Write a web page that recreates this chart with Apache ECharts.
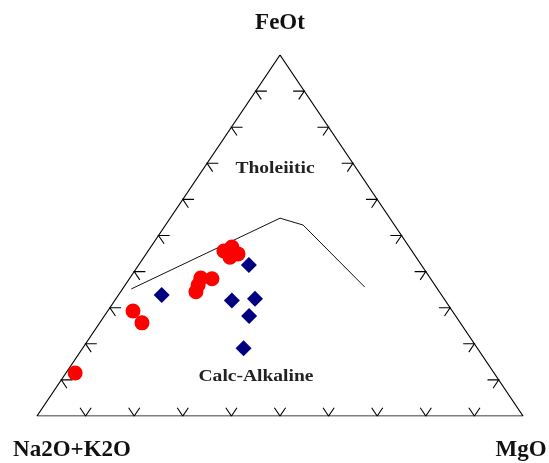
<!DOCTYPE html>
<html>
<head>
<meta charset="utf-8">
<script src="https://cdn.jsdelivr.net/npm/echarts@6/dist/echarts.min.js"></script>
<style>
html,body{margin:0;padding:0;background:#fff;}
#chart{width:549px;height:463px;}
</style>
</head>
<body>
<div id="chart"></div>
<script>
// Vertex labels
const vertexLabels = ['FeOt', 'Na2O+K2O', 'MgO'];
const fieldLabels = ['Tholeiitic', 'Calc-Alkaline'];
// tick positions (percent along each edge)
const tickValues = [10, 20, 30, 40, 50, 60, 70, 80, 90];

// Red circle samples (FeOt, Na2O+K2O, MgO in %)
const redFeOt = [45.7, 46.8, 44.9, 44.0, 38.2, 38.0, 36.3, 34.4, 29.1, 25.8, 11.9];
const redAlk  = [38.7, 36.5, 36.2, 38.3, 47.2, 45.0, 48.7, 50.1, 65.7, 65.5, 86.2];
const redMgO  = [15.6, 16.7, 18.9, 17.7, 14.6, 17.0, 15.0, 15.5, 5.2, 8.7, 1.9];

// Blue diamond samples
const blueFeOt = [33.5, 41.8, 32.0, 32.5, 27.7, 18.8];
const blueAlk  = [57.6, 35.5, 43.9, 38.9, 42.5, 48.1];
const blueMgO  = [8.9, 22.7, 24.1, 28.6, 29.8, 33.1];

// Tholeiitic / calc-alkaline boundary
const lineFeOt = [35.2, 54.8, 52.9, 35.7];
const lineAlk  = [63.0, 22.6, 18.8, 14.7];
const lineMgO  = [1.8, 22.6, 28.3, 49.6];

function toXY(f, a, m) {
  const s = f + a + m;
  return [(m + f / 2) / s * 100, f / s * 100];
}

const redData = redFeOt.map((f, i) => toXY(f, redAlk[i], redMgO[i]));
const blueData = blueFeOt.map((f, i) => toXY(f, blueAlk[i], blueMgO[i]));
const boundaryData = lineFeOt.map((f, i) => toXY(f, lineAlk[i], lineMgO[i]));
const triangle = [toXY(100, 0, 0), toXY(0, 100, 0), toXY(0, 0, 100), toXY(100, 0, 0)];

const d = 2.3;
const ticks = [];
tickValues.forEach(t => {
  // bottom edge (FeOt = 0)
  ticks.push({coords: [toXY(d, 100 - t - d, t), toXY(0, 100 - t, t), toXY(d, 100 - t, t - d)]});
  // left edge (MgO = 0)
  ticks.push({coords: [toXY(t, 100 - t - d, d), toXY(t, 100 - t, 0), toXY(t - d, 100 - t, d)]});
  // right edge (Alk = 0)
  ticks.push({coords: [toXY(t, d, 100 - t - d), toXY(t, 0, 100 - t), toXY(t - d, d, 100 - t)]});
});

const serif = '"Liberation Serif", "Times New Roman", serif';
const chart = echarts.init(document.getElementById('chart'));
chart.setOption({
  animation: false,
  backgroundColor: '#fff',
  grid: {left: 37, right: 26, top: 55, bottom: 47},
  xAxis: {type: 'value', min: 0, max: 100, show: false},
  yAxis: {type: 'value', min: 0, max: 100, show: false},
  graphic: [
    {type: 'text', style: {text: vertexLabels[0], x: 280, y: 23, align: 'center', verticalAlign: 'middle', font: 'bold 23px ' + serif, fill: '#111'}},
    {type: 'text', style: {text: vertexLabels[1], x: 72, y: 450, align: 'center', verticalAlign: 'middle', font: 'bold 23px ' + serif, fill: '#111'}},
    {type: 'text', style: {text: vertexLabels[2], x: 521, y: 450, align: 'center', verticalAlign: 'middle', font: 'bold 23px ' + serif, fill: '#111'}},
    {type: 'text', x: 275, y: 169, scaleX: 1.22, style: {text: fieldLabels[0], x: 0, y: 0, align: 'center', verticalAlign: 'middle', font: 'bold 16px ' + serif, fill: '#222'}},
    {type: 'text', x: 256, y: 377, scaleX: 1.22, style: {text: fieldLabels[1], x: 0, y: 0, align: 'center', verticalAlign: 'middle', font: 'bold 16px ' + serif, fill: '#222'}}
  ],
  series: [
    {type: 'line', data: triangle, symbol: 'none', lineStyle: {color: '#000', width: 1.2}, z: 2},
    {type: 'lines', coordinateSystem: 'cartesian2d', polyline: true, data: ticks, lineStyle: {color: '#000', width: 1.1, opacity: 1}, z: 2},
    {type: 'line', data: boundaryData, symbol: 'none', lineStyle: {color: '#111', width: 1}, z: 2},
    {type: 'scatter', data: redData, symbol: 'circle', symbolSize: 15, itemStyle: {color: '#ff0000', opacity: 1}, z: 3},
    {type: 'scatter', data: blueData, symbol: 'diamond', symbolSize: 16, itemStyle: {color: '#000080', opacity: 1}, z: 3}
  ]
});
</script>
</body>
</html>
